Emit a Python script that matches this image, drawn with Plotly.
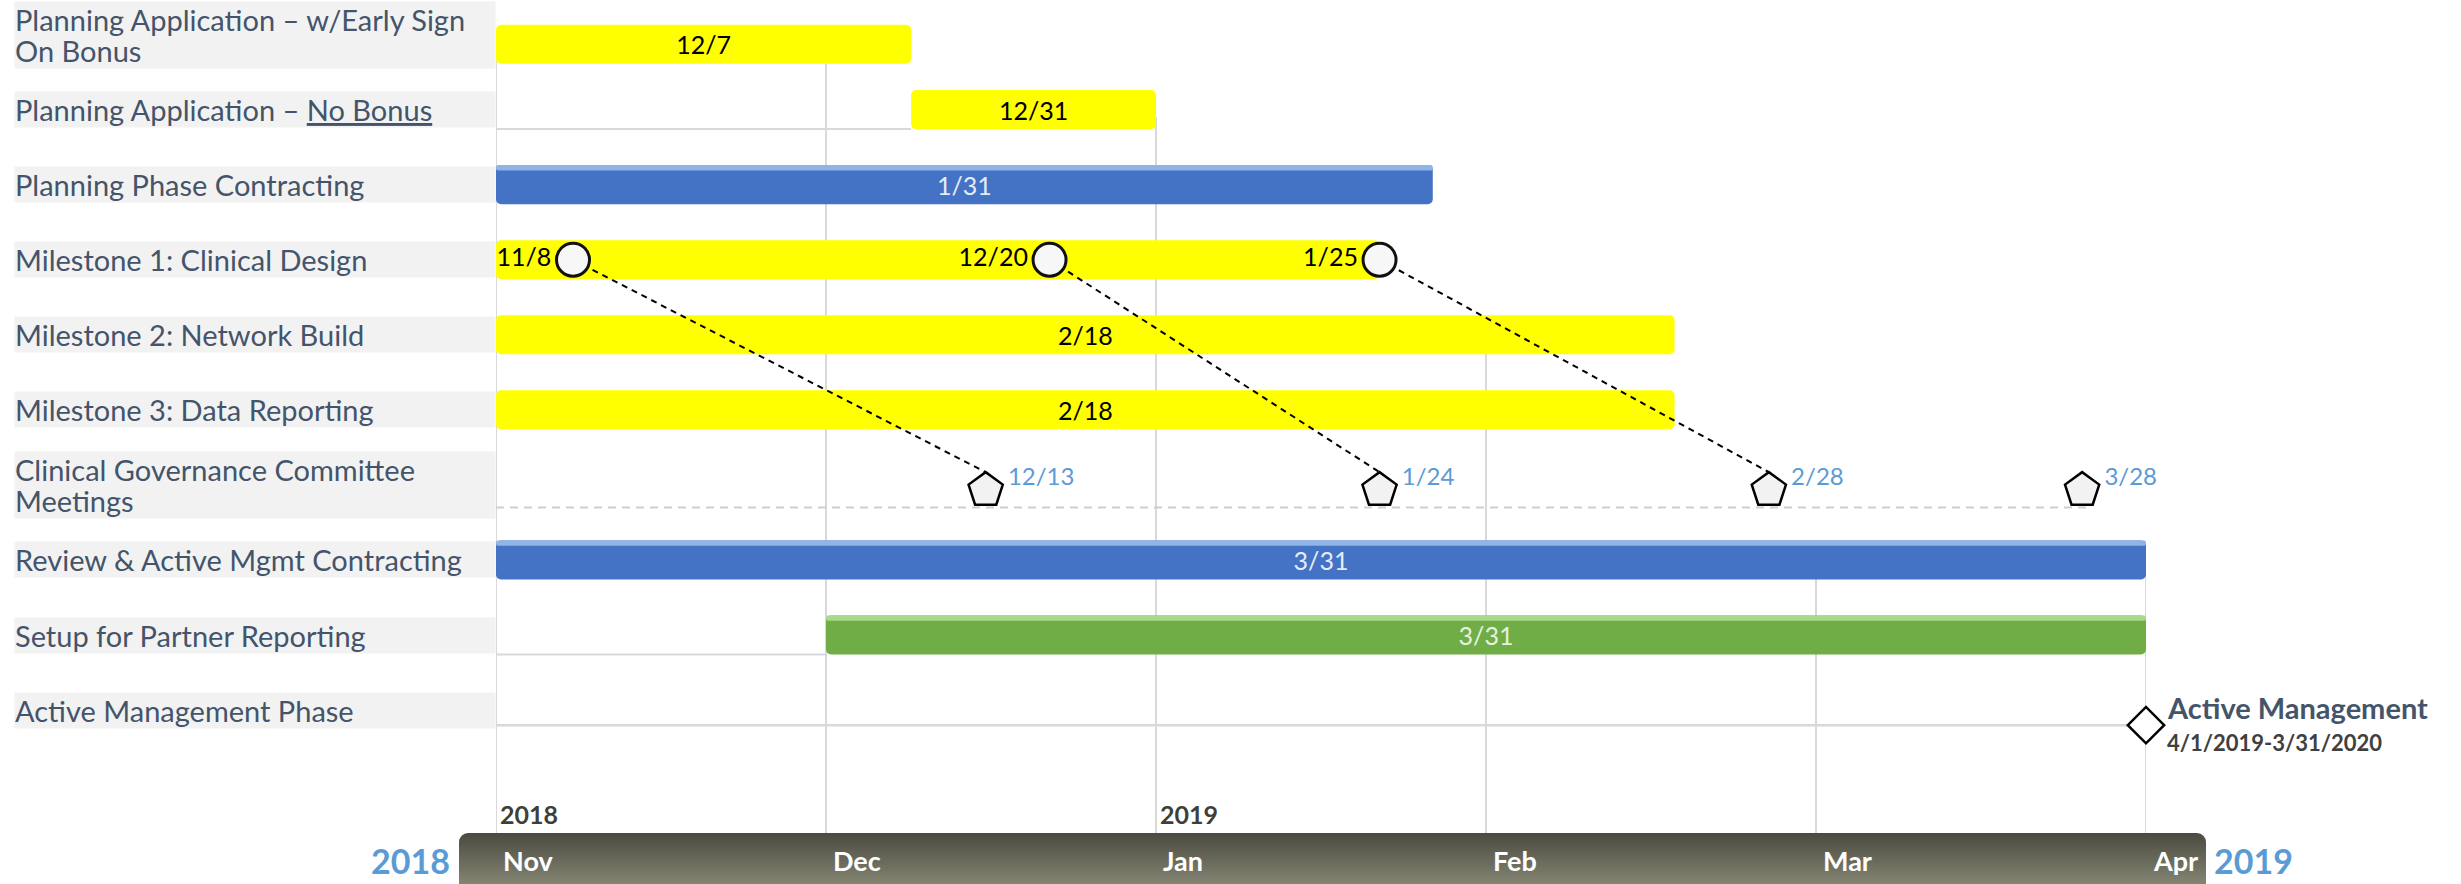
import base64
import calendar
import plotly.graph_objects as go

# ------------------------------------------------------------------ data
task_names = [
    "Planning Application – w/Early Sign<br>On Bonus",
    "Planning Application – <u>No Bonus</u>",
    "Planning Phase Contracting",
    "Milestone 1: Clinical Design",
    "Milestone 2: Network Build",
    "Milestone 3: Data Reporting",
    "Clinical Governance Committee<br>Meetings",
    "Review & Active Mgmt Contracting",
    "Setup for Partner Reporting",
    "Active Management Phase",
]

bar_task = [0, 1, 2, 4, 5, 7, 8]
bar_start = ["2018-11-01", "2018-12-09", "2018-11-01", "2018-11-01",
             "2018-11-01", "2018-11-01", "2018-12-01"]
bar_end = ["2018-12-09", "2019-01-01", "2019-01-27", "2019-02-17",
           "2019-02-17", "2019-04-01", "2019-04-01"]
bar_label = ["12/7", "12/31", "1/31", "2/18", "2/18", "3/31", "3/31"]
bar_kind = ["yellow", "yellow", "blue", "yellow", "yellow", "blue", "green"]

m1_task = 3
m1_start = "2018-11-01"
m1_dates = ["2018-11-08", "2018-12-22", "2019-01-22"]
m1_labels = ["11/8", "12/20", "1/25"]

cgc_task = 6
cgc_dates = ["2018-12-16", "2019-01-22", "2019-02-25", "2019-03-26"]
cgc_labels = ["12/13", "1/24", "2/28", "3/28"]

link_from = [0, 1, 2]   # milestone-1 checkpoint
link_to = [0, 1, 2]     # committee meeting

am_task = 9
am_date = "2019-04-01"
am_title = "Active Management"
am_period = "4/1/2019-3/31/2020"

month_starts = ["2018-11-01", "2018-12-01", "2019-01-01",
                "2019-02-01", "2019-03-01", "2019-04-01"]
month_labels = ["Nov", "Dec", "Jan", "Feb", "Mar", "Apr"]
year_mark_dates = ["2018-11-01", "2019-01-01"]
year_mark_labels = ["2018", "2019"]
span_years = ["2018", "2019"]

# ------------------------------------------------------------------ style
FONT = "Lato"
W, H = 2461, 884
ML, MR, MT, MB = 496, 315, 0, 51
ROW_PX = 75.07
ROW0_PX = 34.5
PLOT_H = H - MT - MB
PLOT_W = W - ML - MR
Y_TOP = -ROW0_PX / ROW_PX
Y_BOTTOM = (PLOT_H - ROW0_PX) / ROW_PX
BAR_W = 0.52
ROW_SHIFT = {0: 0.13}   # first (two-line) row: bar sits a little lower
LABEL_SIZE = 29

fill = {"yellow": "#ffff00", "blue": "#4472c4", "green": "#70ad47"}
gloss = {"blue": "#8fb4e6", "green": "#a9d98a"}
txtc = {"yellow": "#000000", "blue": "#e4ebf7", "green": "#e6f1de"}
LABEL_C = "#44546a"
GRID_C = "#d9d9d9"
BLUE_TXT = "#5b9bd5"


def mpos(d):
    y, m, dd = (int(v) for v in d.split("-"))
    return (y - 2018) * 12 + (m - 11) + (dd - 1) / calendar.monthrange(y, m)[1]


def paper_y(px):
    return (PLOT_H - px) / PLOT_H


fig = go.Figure()

# ------------------------------------------------------------------ bars
rows_all = bar_task + [m1_task]
starts_all = [mpos(s) for s in bar_start] + [mpos(m1_start)]
ends_all = [mpos(e) for e in bar_end] + [mpos(m1_dates[-1])]
labels_all = bar_label + [""]
kinds_all = bar_kind + ["yellow"]

for kind in ["yellow", "blue", "green"]:
    idx = [i for i, k in enumerate(kinds_all) if k == kind]
    ys = [rows_all[i] + ROW_SHIFT.get(rows_all[i], 0) for i in idx]
    bs = [starts_all[i] for i in idx]
    ws = [ends_all[i] - starts_all[i] for i in idx]
    fig.add_trace(go.Bar(
        orientation="h", y=ys, x=ws, base=bs, width=BAR_W,
        marker=dict(color=fill[kind], line=dict(width=0), cornerradius=5),
        text=[labels_all[i] for i in idx], textposition="inside",
        insidetextanchor="middle", constraintext="none", textangle=0,
        textfont=dict(family=FONT, size=25, color=txtc[kind]),
        hoverinfo="skip", showlegend=False, cliponaxis=False,
    ))
    if kind in gloss:
        fig.add_trace(go.Bar(
            orientation="h", y=ys, x=ws, base=bs, width=0.07,
            offset=-BAR_W / 2,
            marker=dict(color=gloss[kind], line=dict(width=0), cornerradius=3),
            hoverinfo="skip", showlegend=False,
        ))

# ------------------------------------------------------------------ grid / separators
shapes = []
for ms in month_starts:
    t = mpos(ms)
    cover = [rows_all[i] for i in range(len(rows_all))
             if starts_all[i] - 1e-9 <= t <= ends_all[i] + 1e-9]
    top = min(cover) + 0.1 if cover else Y_TOP
    shapes.append(dict(type="line", xref="x", yref="y", x0=t, x1=t,
                       y0=top, y1=Y_BOTTOM, layer="below",
                       line=dict(color=GRID_C, width=2)))

for i, r in enumerate(bar_task):
    s = mpos(bar_start[i])
    if s > 0:
        shapes.append(dict(type="line", xref="x", yref="y", x0=0, x1=s,
                           y0=r + BAR_W / 2, y1=r + BAR_W / 2, layer="below",
                           line=dict(color=GRID_C, width=2)))

PENT_DY = 0.07
cgc_x = [mpos(d) for d in cgc_dates]
shapes.append(dict(type="line", xref="x", yref="y", x0=0, x1=cgc_x[-1] + 0.03,
                   y0=cgc_task + 0.3, y1=cgc_task + 0.3, layer="below",
                   line=dict(color="#d0cece", width=2, dash="8px,6px")))

AM_DY = 0.2
am_x = mpos(am_date)
shapes.append(dict(type="line", xref="x", yref="y", x0=0, x1=am_x,
                   y0=am_task + AM_DY, y1=am_task + AM_DY, layer="below",
                   line=dict(color=GRID_C, width=2.5)))

# ------------------------------------------------------------------ links, milestones
m1_x = [mpos(d) for d in m1_dates]
lx, ly = [], []
for a, b in zip(link_from, link_to):
    lx += [m1_x[a], cgc_x[b], None]
    ly += [m1_task, cgc_task + PENT_DY - 0.24, None]
fig.add_trace(go.Scatter(x=lx, y=ly, mode="lines",
                         line=dict(color="#000000", width=2, dash="6px,5px"),
                         hoverinfo="skip", showlegend=False, cliponaxis=False))

fig.add_trace(go.Scatter(
    x=m1_x, y=[m1_task] * len(m1_x), mode="markers+text",
    marker=dict(symbol="circle", size=33, color="#f7f7f7",
                line=dict(color="#111111", width=3)),
    text=m1_labels, textposition="middle left",
    textfont=dict(family=FONT, size=25, color="#000000"),
    hoverinfo="skip", showlegend=False, cliponaxis=False))

fig.add_trace(go.Scatter(
    x=cgc_x, y=[cgc_task + PENT_DY] * len(cgc_x), mode="markers",
    marker=dict(symbol="pentagon", size=36, color="#f2f2f2",
                line=dict(color="#000000", width=2.5)),
    hoverinfo="skip", showlegend=False, cliponaxis=False))
# meeting labels, a bit above the pentagon centres
fig.add_trace(go.Scatter(
    x=cgc_x, y=[cgc_task + PENT_DY - 0.15] * len(cgc_x), mode="markers+text",
    marker=dict(symbol="circle", size=34, color="rgba(0,0,0,0)",
                line=dict(width=0)),
    text=cgc_labels, textposition="middle right",
    textfont=dict(family=FONT, size=24, color=BLUE_TXT),
    hoverinfo="skip", showlegend=False, cliponaxis=False))

fig.add_trace(go.Scatter(
    x=[am_x], y=[am_task + AM_DY], mode="markers",
    marker=dict(symbol="diamond", size=28, color="#ffffff",
                line=dict(color="#000000", width=2.5)),
    hoverinfo="skip", showlegend=False, cliponaxis=False))

# ------------------------------------------------------------------ annotations
ann = []
for r, name in enumerate(task_names):
    nlines = name.count("<br>") + 1
    if nlines == 1:
        txt, fsize, hbox = name, LABEL_SIZE, 35
    else:
        # tighter line pitch: base font smaller, visible text at label size
        txt = "<br>".join(f"<span style='font-size:{LABEL_SIZE}px'>{part}</span>"
                          for part in name.split("<br>"))
        fsize, hbox = 24.5, 66
    ann.append(dict(
        text=txt, xref="paper", x=-(ML - 14) / PLOT_W, xanchor="left",
        yref="y", y=r, yanchor="middle", showarrow=False,
        width=480, height=hbox,
        align="left", valign="middle", bgcolor="#f2f2f2", borderpad=0,
        font=dict(family=FONT, size=fsize, color=LABEL_C)))

for ms, lab in zip(month_starts, month_labels):
    ann.append(dict(text="<b>" + lab + "</b>", xref="x", x=mpos(ms), xanchor="left",
                    xshift=5, yref="paper", y=paper_y(860), yanchor="middle",
                    showarrow=False,
                    font=dict(family=FONT, size=27, color="#ffffff")))

for d, lab in zip(year_mark_dates, year_mark_labels):
    ann.append(dict(text="<b>" + lab + "</b>", xref="x", x=mpos(d), xanchor="left",
                    xshift=2, yref="paper", y=paper_y(814),
                    yanchor="middle", showarrow=False,
                    font=dict(family=FONT, size=25, color="#3f3f38")))

ann.append(dict(text="<b>" + span_years[0] + "</b>", xref="x", x=mpos(month_starts[0]),
                xanchor="right", xshift=-44, yref="paper", y=paper_y(860),
                yanchor="middle", showarrow=False,
                font=dict(family=FONT, size=34, color=BLUE_TXT)))
ann.append(dict(text="<b>" + span_years[1] + "</b>", xref="x", x=mpos(month_starts[-1]),
                xanchor="left", xshift=66, yref="paper", y=paper_y(860),
                yanchor="middle", showarrow=False,
                font=dict(family=FONT, size=34, color=BLUE_TXT)))

ann.append(dict(text="<b>" + am_title + "</b>", xref="x", x=am_x, xanchor="left",
                xshift=19, yref="y", y=am_task + AM_DY, yshift=18,
                yanchor="middle", showarrow=False,
                font=dict(family=FONT, size=29, color=LABEL_C)))
ann.append(dict(text="<b>" + am_period + "</b>", xref="x", x=am_x, xanchor="left",
                xshift=19, yref="y", y=am_task + AM_DY, yshift=-17,
                yanchor="middle", showarrow=False,
                font=dict(family=FONT, size=22, color="#404040")))

# ------------------------------------------------------------------ timeline band
band_left, band_right = 459, 2206
bw = band_right - band_left
svg = (
    f"<svg xmlns='http://www.w3.org/2000/svg' width='{bw}' height='{MB}' "
    f"viewBox='0 0 {bw} {MB}' preserveAspectRatio='none'>"
    "<defs><linearGradient id='g' x1='0' y1='0' x2='0' y2='1'>"
    "<stop offset='0' stop-color='#4a4a40'/>"
    "<stop offset='1' stop-color='#92927f'/></linearGradient></defs>"
    f"<rect x='0' y='0' width='{bw}' height='{MB + 12}' rx='9' ry='9' fill='url(#g)'/>"
    "</svg>"
)
src = "data:image/svg+xml;base64," + base64.b64encode(svg.encode()).decode()
images = [dict(source=src, xref="paper", yref="paper",
               x=(band_left - ML) / PLOT_W, y=0, sizex=bw / PLOT_W,
               sizey=MB / PLOT_H, xanchor="left", yanchor="top",
               sizing="stretch", layer="below")]

fig.update_layout(
    width=W, height=H,
    margin=dict(l=ML, r=MR, t=MT, b=MB, pad=0),
    paper_bgcolor="#ffffff", plot_bgcolor="rgba(0,0,0,0)",
    barmode="overlay", showlegend=False, hovermode=False,
    shapes=shapes, annotations=ann, images=images,
    xaxis=dict(range=[0, 5], showgrid=False, zeroline=False,
               showticklabels=False, ticks="", fixedrange=True),
    yaxis=dict(range=[Y_BOTTOM, Y_TOP], showgrid=False, zeroline=False,
               showticklabels=False, ticks="", fixedrange=True),
    font=dict(family=FONT),
)

fig.write_html("out.html",
               config={"displayModeBar": False, "staticPlot": True},
               post_script="document.body.style.margin='0px';document.body.style.overflow='hidden';")
